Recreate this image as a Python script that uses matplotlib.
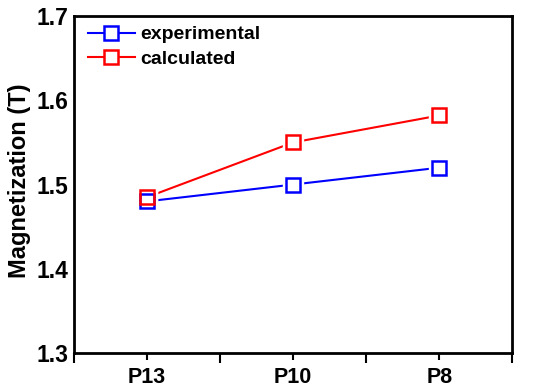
import numpy as np
import matplotlib.pyplot as plt
from matplotlib.ticker import FixedLocator

plt.rcParams['font.family'] = ['Liberation Sans', 'DejaVu Sans']
plt.rcParams['font.weight'] = 'bold'

samples = ["P13", "P10", "P8"]
experimental = [1.48, 1.50, 1.52]
calculated = [1.485, 1.55, 1.582]

fig = plt.figure(figsize=(5.5, 3.92), dpi=100)
ax = fig.add_axes([0.1345, 0.0995, 0.797, 0.8595])

x = np.arange(len(samples))
for vals, col, lab in [(experimental, "#0000ff", "experimental"),
                       (calculated, "#ff0000", "calculated")]:
    # white halo under markers so the lines stop short of them
    ax.plot(x, vals, ls='none', marker='s', ms=14, mfc='white', mec='white', zorder=3)
    ax.plot(x, vals, color=col, lw=1.5, marker='s', ms=10, mfc='white',
            mec=col, mew=1.8, label=lab, zorder=2)
    ax.plot(x, vals, ls='none', marker='s', ms=10, mfc='none', mec=col, mew=1.8, zorder=4)

ax.set_xlim(-0.5, 2.5)
ax.set_ylim(1.3, 1.7)
ax.set_xticks(x)
ax.set_xticklabels(samples)
ax.xaxis.set_minor_locator(FixedLocator([-0.5, 0.5, 1.5, 2.5]))
ax.set_yticks([1.3, 1.4, 1.5, 1.6, 1.7])
ax.tick_params(axis='x', which='major', direction='out', length=5, width=1.5,
               labelsize=15.5, pad=5)
ax.tick_params(axis='x', which='minor', direction='out', length=7, width=1.5)
ax.tick_params(axis='y', length=0, labelsize=16.5, pad=4)
for s in ax.spines.values():
    s.set_linewidth(2)

ax.set_ylabel("Magnetization (T)", fontsize=17, fontweight='bold')
ax.yaxis.set_label_coords(-0.098, 0.51)

leg = ax.legend(loc='upper left', frameon=False, fontsize=14, handlelength=2.4,
                handletextpad=0.3, labelspacing=0.35, borderaxespad=0.1,
                bbox_to_anchor=(0.01, 1.0))

fig.savefig("out.png", dpi=100)
